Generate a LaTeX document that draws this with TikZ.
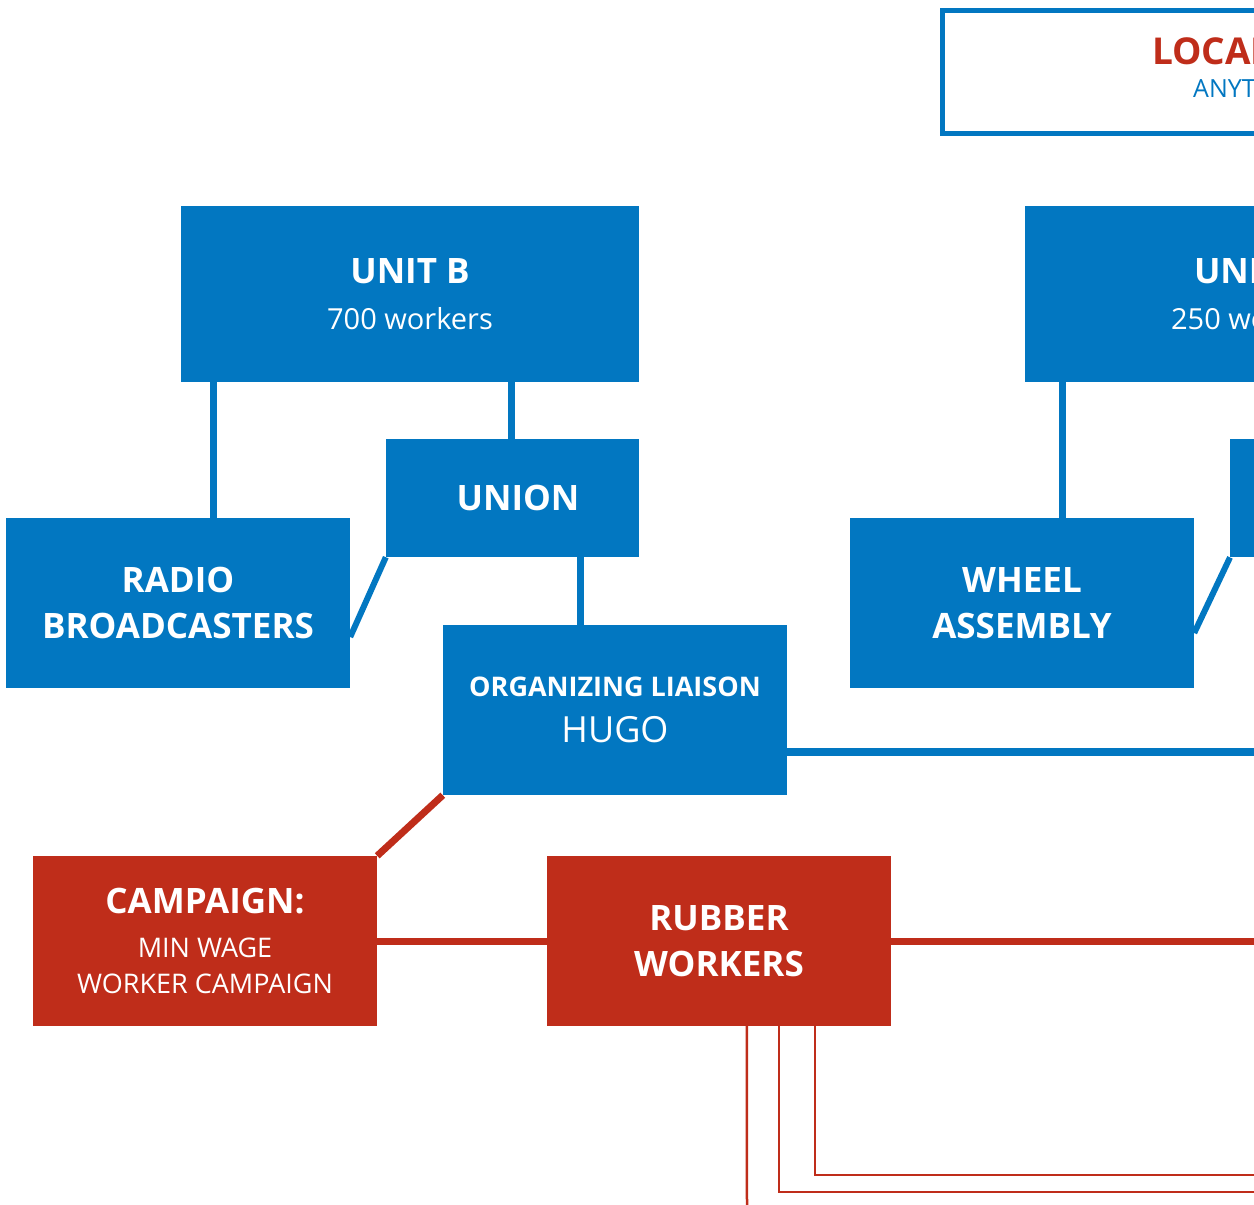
\documentclass[tikz,border=0pt]{standalone}
\usepackage{fontspec}
\setmainfont{Open Sans}
\usetikzlibrary{calc,positioning}
\definecolor{unionblue}{RGB}{2,119,193}
\definecolor{campred}{RGB}{191,45,26}
\newcommand\hd[1]{{\fontsize{35}{46}\selectfont\bfseries #1}}
\newcommand\sm[1]{{\fontsize{29}{46}\selectfont #1}}

\begin{document}
\begin{tikzpicture}[x=1pt,y=-1pt,
box/.style={fill=unionblue,inner sep=0pt,align=center,text=white,minimum width=344pt,minimum height=170pt,font=\fontsize{30}{46}\selectfont},
redbox/.style={box,fill=campred},
bline/.style={draw=unionblue,line width=7pt},
rline/.style={draw=campred,line width=7pt},
rthin/.style={draw=campred,line width=2.5pt}]
 \clip (0,0) rectangle (1254,1205);
 % top row
 \node[draw=unionblue,line width=5pt,inner sep=0pt,minimum width=700pt,minimum height=123pt,anchor=north west] (lc) at (939.5,7.5) {};
 \node[anchor=west,inner sep=0pt,text=campred,font=\fontsize{37}{40}\selectfont\bfseries] (lct) at (1152,51) {LOCAL};
 \node[anchor=west,inner sep=0pt,text=unionblue,font=\fontsize{25}{28}\selectfont] (lcs) at (1193,89) {ANYTOWN};
 \node[box,minimum width=458pt,minimum height=176pt] (ub) at (410,294) {\hd{UNIT B}\\\sm{700 workers}};
 \node[box,minimum width=458pt,minimum height=176pt] (ua) at (1254,294) {\hd{UNIT A}\\\sm{250 workers}};
 % middle row
 \node[box,minimum width=253pt,minimum height=118pt] (un) at (512.5,498) {\hspace{11pt}\hd{UNION}};
 \node[box,minimum width=253pt,minimum height=118pt,anchor=north west] (u2) at (1230,439) {};
 \node[box] (rb) at (178,603) {\hd{RADIO}\\\hd{BROADCASTERS}};
 \node[box] (wa) at (1022,603) {\hd{WHEEL}\\\hd{ASSEMBLY}};
 \node[box] (ol) at (615,710) {{\fontsize{27}{46}\selectfont\bfseries ORGANIZING LIAISON}\\{\fontsize{36}{46}\selectfont HUGO}};
 % campaign row
 \node[redbox] (cp) at (205,941) {\hd{CAMPAIGN:}\\[-2pt]{\fontsize{27}{36}\selectfont MIN WAGE}\\[-10pt]{\fontsize{27}{36}\selectfont WORKER CAMPAIGN}};
 \node[redbox] (rw) at (719,941) {\hd{RUBBER}\\\hd{WORKERS}};
 \coordinate (oe) at (1254,752);
 \coordinate (re) at (1254,941);
 \coordinate (d0) at (747,1205);
 \coordinate (d1) at (1254,1192);
 \coordinate (d2) at (1254,1175);
 % connectors
 \draw[bline] ([xshift=33]ub.south west) -- ([xshift=33]ub.south west |- rb.north);
 \draw[bline] ([xshift=331]ub.south west) -- ([xshift=331]ub.south west |- un.north);
 \draw[bline] ([xshift=38]ua.south west) -- ([xshift=38]ua.south west |- wa.north);
 \draw[draw=unionblue,line width=6pt] (un.south west) -- ([yshift=-34]rb.east);
 \draw[draw=unionblue,line width=6pt] (u2.south west) -- ([yshift=-30]wa.east);
 \draw[bline] ([xshift=195]un.south west) -- ([xshift=195]un.south west |- ol.north);
 \draw[bline,line width=8pt] ([yshift=-42]ol.east) -- (oe);
 \draw[rline] (ol.south west) -- (cp.north east);
 \draw[rline] (cp.east) -- (rw.west);
 \draw[rline] (rw.east) -- (re);
 \draw[rthin] ([xshift=200]rw.south west) -- (d0);
 \draw[rthin] ([xshift=232]rw.south west) |- (d1);
 \draw[rthin] ([xshift=268]rw.south west) |- (d2);
\end{tikzpicture}
\end{document}
